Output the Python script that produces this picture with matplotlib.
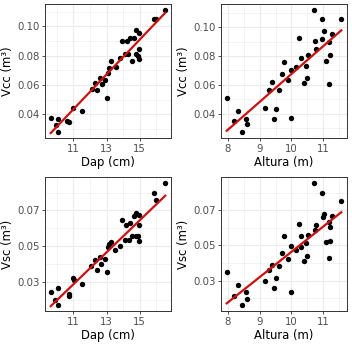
import numpy as np
import matplotlib
matplotlib.use("Agg")
import matplotlib.pyplot as plt
from matplotlib.ticker import MultipleLocator, FixedLocator

# ---- data ----
dap_a = [9.63, 10.04, 9.94, 10.04, 10.61, 10.73, 11.0, 11.51, 12.1, 12.29, 12.43, 12.59,
         12.71, 12.92, 13.02, 13.1, 13.16, 13.27, 13.57, 13.82, 13.92, 14.12, 14.22, 14.3,
         14.39, 14.53, 14.65, 14.76, 14.78, 14.9, 14.94, 14.96, 14.98, 15.88, 15.96, 16.55]
vcc_a = [0.0377, 0.0367, 0.033, 0.028, 0.0353, 0.0349, 0.0444, 0.0423, 0.0573, 0.0615, 0.0568, 0.065,
         0.0608, 0.0631, 0.0514, 0.068, 0.0715, 0.0766, 0.072, 0.0783, 0.090, 0.0813, 0.090, 0.081,
         0.0923, 0.0766, 0.0923, 0.0972, 0.0813, 0.080, 0.0953, 0.0843, 0.078, 0.105, 0.105, 0.111]

alt_b = [7.97, 8.21, 8.31, 8.46, 8.56, 8.6, 9.16, 9.3, 9.4, 9.45, 9.51, 9.6, 9.7, 9.75, 9.89,
         9.99, 10.0, 10.13, 10.23, 10.29, 10.39, 10.47, 10.49, 10.51, 10.7, 10.74, 10.78, 10.97,
         10.95, 11.02, 11.08, 11.18, 11.2, 11.18, 11.26, 11.56]
vcc_b = [0.0507, 0.0349, 0.0421, 0.0276, 0.0363, 0.0328, 0.0442, 0.0566, 0.0624, 0.0365, 0.0437,
         0.0568, 0.0678, 0.0762, 0.0631, 0.0374, 0.0706, 0.0724, 0.0925, 0.0783, 0.0615, 0.0729,
         0.0647, 0.0806, 0.1117, 0.0907, 0.0848, 0.0918, 0.1054, 0.0972, 0.0766, 0.0895, 0.0806,
         0.0608, 0.0953, 0.1054]

dap_c = [9.63, 9.9, 10.04, 10.04, 10.71, 10.76, 11.0, 11.02, 11.53, 12.08, 12.29, 12.43, 12.59,
         12.65, 12.9, 13.02, 13.1, 13.16, 13.27, 13.51, 13.82, 13.92, 14.12, 14.2, 14.33, 14.41,
         14.55, 14.65, 14.78, 14.8, 14.9, 14.94, 14.98, 14.98, 15.86, 15.96, 16.55]
vsc_c = [0.0243, 0.020, 0.0266, 0.017, 0.0229, 0.022, 0.0323, 0.031, 0.0285, 0.039, 0.0421, 0.0363,
         0.044, 0.0398, 0.0428, 0.0357, 0.0497, 0.051, 0.0524, 0.0476, 0.050, 0.0645, 0.0535,
         0.0616, 0.0535, 0.0631, 0.0558, 0.0666, 0.0558, 0.0683, 0.0558, 0.0673, 0.062, 0.0526,
         0.0798, 0.0759, 0.0853]

alt_d = [7.97, 8.21, 8.31, 8.46, 8.56, 8.6, 9.16, 9.3, 9.4, 9.45, 9.51, 9.6, 9.7, 9.75, 9.89,
         9.99, 10.0, 10.13, 10.23, 10.29, 10.29, 10.39, 10.47, 10.49, 10.51, 10.7, 10.74, 10.78,
         10.97, 10.98, 11.02, 11.08, 11.18, 11.2, 11.18, 11.21, 11.26, 11.56]
vsc_d = [0.0352, 0.0214, 0.0277, 0.0162, 0.0233, 0.0193, 0.0296, 0.0363, 0.039, 0.0256, 0.0317,
         0.0382, 0.0455, 0.0555, 0.0421, 0.0237, 0.0495, 0.0476, 0.0625, 0.0553, 0.0491, 0.0413,
         0.0516, 0.0438, 0.0558, 0.0855, 0.0587, 0.0616, 0.0798, 0.066, 0.0677, 0.052, 0.0635,
         0.0606, 0.043, 0.0524, 0.0669, 0.0755]

panels = [
    (dap_a, vcc_a, "Dap (cm)", "Vcc (m\u00b3)", [11, 13, 15], [0.04, 0.06, 0.08, 0.10], "{:.2f}"),
    (alt_b, vcc_b, "Altura (m)", "Vcc (m\u00b3)", [8, 9, 10, 11], [0.04, 0.06, 0.08, 0.10], "{:.2f}"),
    (dap_c, vsc_c, "Dap (cm)", "Vsc (m\u00b3)", [11, 13, 15], [0.03, 0.05, 0.07], "{:.2f}"),
    (alt_d, vsc_d, "Altura (m)", "Vsc (m\u00b3)", [8, 9, 10, 11], [0.03, 0.05, 0.07], "{:.2f}"),
]

W, H = 352, 346
fig = plt.figure(figsize=(W / 100, H / 100), dpi=100)
boxes = [(45, 4), (221, 4), (45, 177), (221, 177)]
pw, ph = 126, 134

for (x, y, xl, yl, xt, yt, fmt), (px, py) in zip(panels, boxes):
    ax = fig.add_axes([px / W, 1 - (py + ph) / H, pw / W, ph / H])
    x = np.array(x); y = np.array(y)
    xr = x.max() - x.min(); yr = y.max() - y.min()
    ax.set_xlim(x.min() - 0.05 * xr, x.max() + 0.05 * xr)
    ax.set_ylim(y.min() - 0.05 * yr, y.max() + 0.05 * yr)
    xstep = xt[1] - xt[0]; ystep = yt[1] - yt[0]
    ax.xaxis.set_major_locator(FixedLocator(xt))
    ax.yaxis.set_major_locator(FixedLocator(yt))
    ax.xaxis.set_minor_locator(MultipleLocator(xstep / 2))
    ax.yaxis.set_minor_locator(FixedLocator(np.arange(yt[0] - ystep * 1.5, yt[-1] + ystep, ystep)))
    ax.set_yticklabels([fmt.format(v) for v in yt])
    ax.set_xticklabels([str(v) for v in xt])
    ax.grid(True, which="major", color="#EBEBEB", lw=0.8)
    ax.grid(True, which="minor", color="#EBEBEB", lw=0.4)
    ax.set_axisbelow(True)
    ax.tick_params(which="minor", length=0)
    ax.tick_params(which="major", length=2.5, width=0.6, color="#333333",
                   labelsize=7.3, labelcolor="#4D4D4D", pad=1.5)
    for s in ax.spines.values():
        s.set_color("#333333"); s.set_linewidth(0.7)
    ax.scatter(x, y, s=15, color="black", zorder=3, linewidths=0)
    b, a = np.polyfit(x, y, 1)
    xs = np.array([x.min(), x.max()])
    ax.plot(xs, a + b * xs, color="#CC1111", lw=1.6, zorder=4)
    ax.set_xlabel(xl, fontsize=8.4, labelpad=2)
    ax.set_ylabel(yl, fontsize=8.4, labelpad=2)

fig.savefig("out.png", dpi=100)
